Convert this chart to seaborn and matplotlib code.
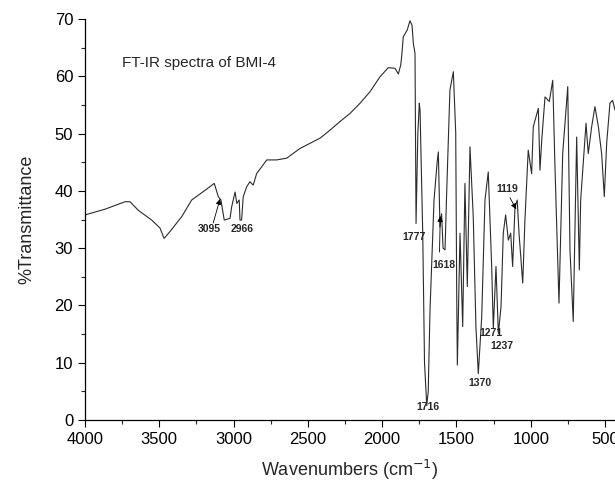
import numpy as np
import pandas as pd
import matplotlib
matplotlib.use("Agg")
import matplotlib.pyplot as plt
from matplotlib.ticker import MultipleLocator
import seaborn as sns

# spectrum (wavenumber cm-1, %T)
wavenumber = [4000, 3865, 3731, 3697, 3641, 3551, 3495, 3468, 3428, 3349,
              3282, 3192, 3130, 3103, 3085, 3063, 3024, 3013, 2990, 2978,
              2962, 2957, 2946, 2935, 2912, 2890, 2868, 2845, 2777, 2710,
              2643, 2553, 2486, 2418, 2351, 2284, 2217, 2149, 2082, 2015,
              1959, 1914, 1891, 1875, 1869, 1858, 1831, 1813, 1799, 1790,
              1779, 1772, 1760, 1750, 1745, 1727, 1715, 1700, 1690, 1678,
              1651, 1630, 1622, 1611, 1600, 1590, 1577, 1566, 1544, 1521,
              1505, 1498, 1494, 1476, 1458, 1443, 1427, 1409, 1387, 1369,
              1353, 1330, 1308, 1286, 1263, 1252, 1234, 1218, 1200, 1185,
              1169, 1151, 1135, 1122, 1106, 1091, 1079, 1054, 1039, 1017,
              994, 983, 949, 938, 926, 904, 875, 852, 837, 810,
              785, 751, 736, 714, 691, 673, 664, 628, 613, 590,
              568, 545, 523, 505, 489, 467, 449, 433]
transmittance = [35.8, 36.8, 38.1, 38.1, 36.6, 34.9, 33.5, 31.7, 32.9, 35.5,
                 38.4, 40.1, 41.3, 39.0, 38.4, 34.9, 35.2, 37.2, 39.8, 37.8,
                 38.4, 34.9, 34.9, 39.0, 40.7, 41.6, 41.0, 43.0, 45.4, 45.4,
                 45.7, 47.4, 48.3, 49.2, 50.6, 52.1, 53.5, 55.3, 57.3, 59.9,
                 61.5, 61.4, 60.4, 62.0, 63.4, 66.9, 68.1, 69.7, 68.9, 65.7,
                 64.0, 34.3, 50.0, 55.3, 54.0, 32.6, 10.0, 2.5, 5.0, 19.2,
                 38.4, 45.0, 46.8, 33.7, 36.0, 30.0, 29.7, 39.6, 57.6, 60.8,
                 50.1, 20.9, 9.6, 32.6, 16.3, 41.3, 23.3, 47.7, 35.5, 16.3,
                 8.1, 18.0, 38.4, 43.3, 26.8, 16.0, 26.8, 15.1, 19.8, 32.6,
                 35.8, 31.4, 32.6, 26.8, 37.2, 38.4, 32.6, 23.9, 35.0, 47.1,
                 43.0, 51.2, 54.4, 43.6, 48.9, 56.4, 55.6, 59.3, 44.2, 20.4,
                 46.5, 58.2, 29.7, 17.2, 49.4, 26.2, 38.4, 51.8, 46.5, 51.2,
                 54.7, 51.2, 46.5, 39.0, 48.3, 55.3, 55.8, 54.1]

# peak labels: text, label position, arrow tail / head (None = no arrow)
peak_text = ["3095", "2966", "1777", "1618", "1716", "1370", "1271", "1237", "1119"]
peak_xy = [(3163, 33.3), (2945, 33.3), (1786, 31.9), (1584, 27.0), (1690, 2.2),
           (1342, 6.4), (1268, 15.2), (1192, 12.9), (1155, 40.4)]
arrow_tail = [(3137, 34.4), None, None, (1614, 29.3), None, None, None, None, (1140, 38.8)]
arrow_head = [(3091, 38.6), None, None, (1609, 35.6), None, None, None, None, (1098, 36.8)]

sns.set_style("ticks")
plt.rcParams['font.family'] = ['Liberation Sans', 'DejaVu Sans']

df = pd.DataFrame({"wn": wavenumber, "T": transmittance})

fig = plt.figure(figsize=(6.15, 4.82), dpi=100)
ax = fig.add_axes([85 / 615, 62 / 482, 530 / 615, 401 / 482])

sns.lineplot(data=df, x="wn", y="T", sort=False, estimator=None,
             color="#2b2b2b", linewidth=0.8, ax=ax)

ax.set_xlim(4000, 433)
ax.set_ylim(0, 70)
ax.xaxis.set_major_locator(MultipleLocator(500))
ax.xaxis.set_minor_locator(MultipleLocator(250))
ax.yaxis.set_major_locator(MultipleLocator(10))
ax.yaxis.set_minor_locator(MultipleLocator(5))
ax.tick_params(which="major", length=5, width=0.8, direction="out", labelsize=12, colors="black")
ax.tick_params(which="minor", length=3, width=0.8, direction="out")
sns.despine(ax=ax)
for s in ["left", "bottom"]:
    ax.spines[s].set_color("black")
    ax.spines[s].set_linewidth(0.9)

ax.set_xlabel("Wavenumbers (cm$^{-1}$)", fontsize=13, labelpad=8)
ax.set_ylabel("%Transmittance", fontsize=13, labelpad=14)

ax.text(3753, 62.3, "FT-IR spectra of BMI-4", fontsize=11, va="center", ha="left")

for i, t in enumerate(peak_text):
    ax.text(peak_xy[i][0], peak_xy[i][1], t, fontsize=7.5, fontweight="bold",
            ha="center", va="center")
    if arrow_tail[i] is not None:
        ax.annotate("", xy=arrow_head[i], xytext=arrow_tail[i],
                    arrowprops=dict(arrowstyle="-|>", color="black", lw=0.6,
                                    mutation_scale=8, shrinkA=0, shrinkB=0))

fig.savefig("out.png", dpi=100)
